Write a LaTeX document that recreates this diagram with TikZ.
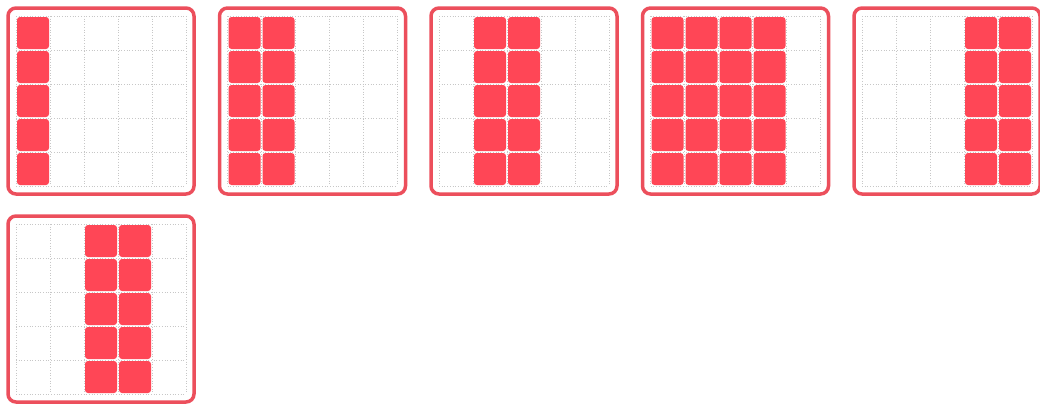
\documentclass[tikz,border=0pt]{standalone}
\usetikzlibrary{positioning}
\definecolor{tile}{HTML}{FF4656}
\definecolor{rim}{HTML}{EC4F5C}
\tikzset{
  panel/.style={draw=rim, line width=3.5pt, rounded corners=8pt, fill=white, minimum size=186pt, inner sep=0pt},
  gridline/.style={black!22, dotted, line width=0.7pt},
  cell/.style={fill=tile, rounded corners=3pt, minimum size=32pt, inner sep=0pt}}

\begin{document}
\begin{tikzpicture}[x=1pt, y=-1pt]
\useasboundingbox (0,0) rectangle (1040,407);
% panels
\node[panel] (p1) at (101,101) {};
\node[panel] (p2) at (312.5,101) {};
\node[panel] (p3) at (524,101) {};
\node[panel] (p4) at (735.5,101) {};
\node[panel] (p5) at (947,101) {};
\node[panel] (p6) at (101,309) {};
% dotted grid
\foreach \p in {1,...,6}
  \foreach \k in {0,...,5} {
    \draw[gridline] ([shift={(-85+34*\k,-85)}]p\p.center) -- ([shift={(-85+34*\k,85)}]p\p.center);
    \draw[gridline] ([shift={(-85,-85+34*\k)}]p\p.center) -- ([shift={(85,-85+34*\k)}]p\p.center);
  }
% filled columns
\foreach \p/\cols in {1/{0}, 2/{0,1}, 3/{1,2}, 4/{0,1,2,3}, 5/{3,4}, 6/{2,3}}
  \foreach \c in \cols
    \foreach \r in {0,...,4}
      \node[cell] (c\p-\c-\r) at ([shift={(-68+34*\c,-68+34*\r)}]p\p.center) {};
\end{tikzpicture}
\end{document}
